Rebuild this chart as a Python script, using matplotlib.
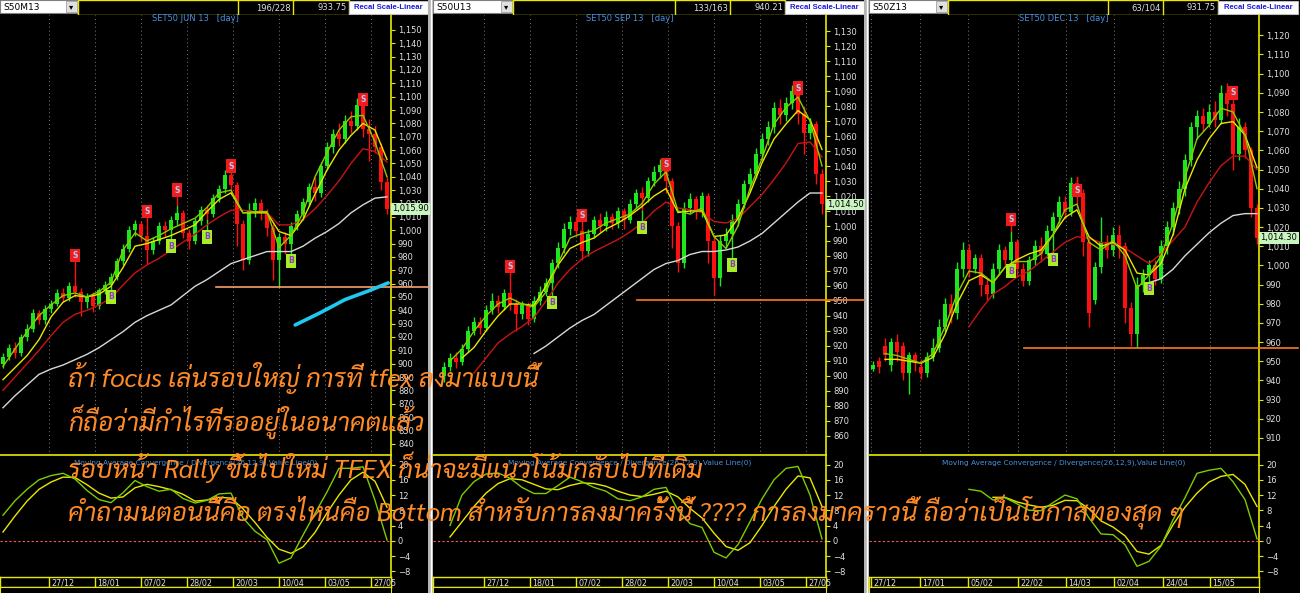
import numpy as np
import matplotlib
matplotlib.use('Agg')
import matplotlib.pyplot as plt
from matplotlib.patches import Rectangle
from matplotlib.ticker import FixedLocator, FuncFormatter

W, H = 1300, 593
STEP = 6.0  # pixels per candle slot (one candle = 2 trading days)

# ---------------- SET50 JUN 13 (S50M13) ----------------
p1_open = [900, 905, 912, 908, 920, 926, 938, 933, 941, 945,
           953, 949, 958, 954, 946, 951, 943, 955, 959, 965,
           977, 986, 1000, 1005, 996, 985, 992, 1003, 1000, 1008,
           1013, 998, 992, 1007, 1015, 1012, 1024, 1031, 1041, 1034,
           1005, 978, 1015, 1020, 1013, 1002, 978, 995, 990, 1003,
           1012, 1021, 1032, 1028, 1048, 1062, 1072, 1068, 1082, 1078,
           1094, 1076, 1072, 1062, 1036]
p1_close = [905, 912, 908, 920, 926, 938, 933, 941, 945, 953,
            949, 958, 954, 946, 951, 943, 955, 959, 965, 977,
            986, 1000, 1005, 996, 985, 992, 1003, 1000, 1008, 1013,
            998, 992, 1007, 1015, 1012, 1024, 1031, 1041, 1034, 1005,
            978, 1015, 1020, 1013, 1002, 978, 995, 990, 1003, 1012,
            1021, 1032, 1028, 1048, 1062, 1072, 1068, 1082, 1078, 1094,
            1076, 1072, 1062, 1036, 1015.9]
p1_high = [908, 915, 916, 922, 930, 941, 940, 944, 948, 956,
           957, 961, 965, 957, 953, 954, 957, 962, 968, 979,
           990, 1003, 1008, 1007, 998, 995, 1006, 1007, 1011, 1019,
           1015, 1001, 1009, 1018, 1019, 1027, 1034, 1045, 1043, 1036,
           1008, 1020, 1024, 1023, 1016, 1005, 998, 999, 1006, 1015,
           1024, 1035, 1040, 1051, 1066, 1076, 1080, 1086, 1089, 1099,
           1096, 1083, 1078, 1065, 1040]
p1_low = [897, 903, 904, 906, 917, 924, 930, 930, 938, 943,
          946, 947, 950, 936, 942, 939, 941, 952, 956, 963,
          974, 984, 996, 992, 975, 982, 990, 996, 998, 1004,
          994, 986, 990, 1004, 1008, 1010, 1021, 1028, 1026, 988,
          970, 975, 1010, 1008, 996, 963, 957, 982, 987, 1000,
          1008, 1018, 1022, 1025, 1045, 1058, 1063, 1065, 1073, 1075,
          1070, 1052, 1058, 1030, 1012]
# moving averages, read every second candle slot
p1_ma_fast = [898, 911, 924, 936, 944, 951, 953, 950, 954, 961, 985, 998, 992, 996, 1001, 1005, 1009,
              1017, 1028, 1030, 1013, 1014, 1014, 987, 996, 1013, 1040, 1058, 1075, 1085, 1086, 1066, 1040]
p1_ma_mid = [888, 897, 906, 918, 935, 946, 951, 950, 952, 958, 972, 988, 990, 993, 996, 1000, 1004,
             1014, 1023, 1028, 1013, 1013, 1013, 999, 996, 1008, 1027, 1045, 1060, 1071, 1080, 1075, 1053]
p1_ma_slow = [880, 890, 900, 910, 921, 931, 937, 940, 944, 949, 959, 968, 974, 979, 985, 991, 997,
              1004, 1010, 1015, 1015, 1014, 1013, 1004, 1004, 1008, 1016, 1026, 1037, 1050, 1061, 1059, 1051]
p1_ma_long = [867, 876, 884, 892, 896, 899, 903, 907, 912, 918, 924, 931, 936, 940, 944, 951, 958,
              963, 969, 975, 978, 981, 984, 984, 984, 988, 994, 999, 1005, 1013, 1019, 1024, 1025]
p1_macd = [6.7, 10.5, 13.5, 16, 17.1, 17.7, 16.2, 13.2, 10.8, 10, 12.6, 15.8, 14.2, 13, 13.5, 11.1, 9.9,
           10.6, 12.3, 12.5, 6, 2.5, 0.3, -5.9, -4.5, 1.5, 7.2, 12.8, 19, 19, 19.4, 10.6, 0.2]
p1_signal = [2.3, 6.5, 10.4, 13.5, 15.4, 16.7, 16.6, 14.7, 12.5, 11.2, 11.5, 13.9, 14.8, 14.2, 13.4, 12.2, 10.4,
             10.7, 11.4, 11.2, 8.4, 4.8, 0.9, -2.2, -3.3, -1.6, 2.2, 7.3, 12, 16, 18, 15.6, 8.8]
p1_sig_idx = [12, 18, 24, 28, 29, 34, 38, 48, 60]
p1_sig_val = [981, 950, 1014, 988, 1030, 995, 1048, 977, 1098]
p1_sig_kind = ['S', 'B', 'S', 'B', 'S', 'B', 'S', 'B', 'S']
p1_level = 957.5
p1_level_from = 35.5
p1_cyan_idx = [48.7, 52.8, 57.0, 61.2, 64.2]
p1_cyan_val = [929, 938, 948, 955, 960.5]
p1_date_pos = [7.67, 15.33, 23.0, 30.67, 38.33, 46.0, 53.67, 61.33]
p1_date_lbl = ['27/12', '18/01', '07/02', '28/02', '20/03', '10/04', '03/05', '27/05']

# ---------------- SET50 SEP 13 (S50U13), candles start at slot 1 ----------------
p2_open = [900, 906, 912, 909, 918, 930, 936, 932, 944, 950,
           946, 955, 948, 941, 947, 938, 950, 956, 962, 975,
           985, 998, 1003, 997, 983, 995, 1004, 1000, 1006, 1002,
           1010, 1004, 1015, 1022, 1019, 1030, 1036, 1041, 1030, 1000,
           975, 1012, 1018, 1010, 1020, 990, 965, 990, 995, 1004,
           1015, 1028, 1035, 1048, 1058, 1066, 1079, 1074, 1082, 1090,
           1075, 1062, 1068, 1035]
p2_close = [906, 912, 909, 918, 930, 936, 932, 944, 950, 946,
            955, 948, 941, 947, 938, 950, 956, 962, 975, 985,
            998, 1003, 997, 983, 995, 1004, 1000, 1006, 1002, 1010,
            1004, 1015, 1022, 1019, 1030, 1036, 1041, 1030, 1000, 975,
            1012, 1018, 1010, 1020, 990, 965, 990, 995, 1004, 1015,
            1028, 1035, 1048, 1058, 1066, 1079, 1074, 1082, 1090, 1075,
            1062, 1068, 1035, 1014.5]
p2_high = [909, 915, 916, 921, 933, 939, 939, 947, 955, 954,
           958, 962, 951, 950, 949, 953, 960, 965, 978, 989,
           1002, 1007, 1006, 999, 998, 1007, 1009, 1010, 1009, 1013,
           1012, 1018, 1025, 1026, 1033, 1040, 1045, 1043, 1032, 1003,
           1016, 1022, 1020, 1023, 1022, 993, 994, 999, 1008, 1018,
           1031, 1039, 1052, 1062, 1070, 1083, 1085, 1086, 1094, 1093,
           1080, 1072, 1070, 1038]
p2_low = [896, 903, 905, 907, 916, 927, 928, 930, 941, 942,
          944, 944, 930, 938, 934, 936, 947, 953, 960, 972,
          982, 994, 993, 977, 980, 992, 996, 997, 998, 999,
          998, 1002, 1012, 1010, 1016, 1027, 1032, 1022, 985, 969,
          972, 1008, 1005, 1006, 975, 954, 960, 985, 990, 1000,
          1012, 1024, 1032, 1044, 1054, 1062, 1068, 1070, 1078, 1068,
          1048, 1058, 1028, 1008]
p2_ma_fast = [None, 910, 918, 930, 940, 948, 952, 948, 946, 956, 975, 992, 995, 997, 1002, 1005, 1008,
              1015, 1028, 1036, 1010, 1008, 1012, 993, 985, 1000, 1025, 1045, 1068, 1079, 1086, 1070, 1040]
p2_ma_mid = [None, None, 912, 919, 930, 940, 948, 948, 947, 960, 974, 985, 989, 992, 998, 1002, 1007,
             1013, 1020, 1025, 1009, 1010, 1010, 993, 994, 1005, 1022, 1042, 1058, 1068, 1077, 1071, 1051]
p2_ma_slow = [None, None, None, 902, 912, 922, 928, 933, 939, 950, 962, 971, 978, 983, 987, 991, 996,
              1002, 1010, 1016, 1012, 1011, 1009, 1003, 1002, 1005, 1013, 1021, 1031, 1042, 1055, 1056, 1046]
p2_ma_long = [None, None, None, None, None, None, None, None, 915, 920, 926, 932, 937, 941, 947, 953, 959,
              965, 971, 975, 977, 981, 983, 983, 984, 986, 990, 995, 1002, 1009, 1016, 1022, 1022]
p2_macd = [None, 4, 12, 15.5, 17.5, 17.8, 16.4, 14, 12.4, 12.4, 14.5, 16.7, 15.5, 14, 13, 11, 10.5,
           11.5, 13.5, 14, 8, 4.5, 3.5, -3, -4.5, -1, 5, 11, 16, 19, 19.5, 12, 0.5]
p2_signal = [None, 1, 5, 9, 12.5, 15, 16.3, 16, 14.8, 13.6, 13.4, 14.5, 15.2, 15, 14.3, 13, 12,
             11.6, 12.2, 13, 11.5, 8.5, 6, 2, -1.5, -2.5, -0.5, 4, 9, 13.5, 17, 16.5, 9]
p2_sig_idx = [12, 19, 24, 34, 38, 49, 60]
p2_sig_val = [973, 949, 1007, 999, 1041, 974, 1092]
p2_sig_kind = ['S', 'B', 'S', 'B', 'S', 'B', 'S']
p2_level = 950.7
p2_level_from = 33.2
p2_date_pos = [7.67, 15.33, 23.0, 30.67, 38.33, 46.0, 53.67, 61.33]
p2_date_lbl = ['27/12', '18/01', '07/02', '28/02', '20/03', '10/04', '03/05', '27/05']

# ---------------- SET50 DEC 13 (S50Z13) ----------------
p3_open = [946, 950, 958, 948, 960, 958, 944, 953, 947, 944,
           952, 957, 968, 980, 975, 998, 1008, 998, 1004, 990,
           985, 998, 1008, 1003, 1012, 998, 992, 1003, 1010, 1006,
           1018, 1025, 1033, 1028, 1043, 1038, 1012, 982, 999, 1012,
           1008, 1016, 1010, 978, 964, 990, 995, 1000, 993, 1010,
           1020, 1030, 1040, 1055, 1072, 1078, 1074, 1080, 1076, 1090,
           1084, 1058, 1072, 1060, 1030]
p3_close = [948, 947, 953, 960, 955, 944, 953, 949, 944, 952,
            957, 968, 980, 975, 998, 1008, 998, 1004, 990, 985,
            998, 1008, 1003, 1012, 998, 992, 1003, 1010, 1006, 1018,
            1025, 1033, 1028, 1043, 1038, 1012, 975, 999, 1012, 1008,
            1016, 1010, 978, 964, 990, 995, 1000, 993, 1010, 1020,
            1030, 1040, 1055, 1072, 1078, 1074, 1080, 1076, 1090, 1084,
            1058, 1072, 1060, 1030, 1014.3]
p3_high = [950, 952, 962, 962, 964, 960, 955, 955, 951, 955,
           962, 972, 983, 985, 1002, 1012, 1011, 1006, 1006, 993,
           1001, 1011, 1010, 1018, 1014, 1001, 1005, 1013, 1015, 1021,
           1028, 1036, 1036, 1046, 1046, 1040, 1015, 1002, 1025, 1016,
           1020, 1021, 1012, 981, 994, 998, 1003, 1003, 1013, 1023,
           1033, 1044, 1058, 1075, 1081, 1082, 1084, 1086, 1094, 1095,
           1088, 1077, 1075, 1062, 1032]
p3_low = [945, 944, 950, 945, 950, 940, 933, 945, 941, 942,
          950, 955, 965, 970, 972, 994, 994, 996, 984, 982,
          983, 995, 999, 1000, 994, 989, 990, 1000, 1002, 1004,
          1015, 1022, 1024, 1026, 1030, 1005, 968, 980, 996, 1004,
          1005, 1004, 970, 958, 957, 986, 990, 990, 991, 1006,
          1016, 1027, 1036, 1052, 1066, 1070, 1072, 1072, 1074, 1078,
          1050, 1055, 1056, 1025, 1011]
p3_ma_fast = [None, 954, 953, 951, 949, 954, 968, 985, 997, 996, 991, 999, 1002, 1002, 1006, 1016, 1029,
              1032, 1012, 1008, 1013, 1005, 988, 995, 1005, 1022, 1046, 1066, 1073, 1082, 1080, 1068, 1040]
p3_ma_mid = [None, 951, 951, 950, 949, 952, 964, 980, 992, 995, 991, 999, 1003, 1006, 1008, 1016, 1025,
             1029, 1015, 1010, 1012, 1008, 996, 995, 1001, 1016, 1040, 1055, 1066, 1074, 1075, 1068, 1051]
p3_ma_slow = [None, None, None, None, None, None, None, None, 968, 977, 985, 989, 994, 997, 1002, 1007, 1012,
              1015, 1014, 1012, 1011, 1009, 1005, 1001, 1006, 1013, 1020, 1033, 1043, 1052, 1057, 1057, 1050]
p3_ma_long = [None] * 23 + [991, 993, 998, 1005, 1011, 1017, 1022, 1026, 1027, 1027]
p3_macd = [None] * 8 + [13.5, 13, 10.7, 11.3, 9.7, 8, 7.9, 10, 12, 11, 6, 1.8, 1.6, -1, -6.7, -5.4, -1.4,
                        5.5, 11.3, 17.7, 18.5, 19, 15.5, 10.8, 0.5]
p3_signal = [None] * 10 + [11.4, 11.4, 10.2, 9.4, 8.8, 9.3, 10.6, 10.5, 8.4, 5.2, 3.6, 1.3, -2.8, -3.5,
                           -1.2, 4.2, 8.8, 12.5, 15.4, 16.9, 17.4, 14.8, 9]
p3_sig_idx = [23, 23, 30, 34, 46, 60]
p3_sig_val = [1024, 997, 1003, 1039, 988, 1090]
p3_sig_kind = ['S', 'B', 'B', 'S', 'B', 'S']
p3_level = 956.8
p3_level_from = 25.2
p3_date_pos = [-0.33, 7.83, 15.83, 24.17, 32.17, 40.17, 48.33, 56.17]
p3_date_lbl = ['27/12', '17/01', '05/02', '22/02', '14/03', '02/04', '24/04', '15/05']

note_lines = [
    'ถ้า focus เล่นรอบใหญ่ การที่ tfex ลงมาแบบนี้',
    'ก็ถือว่ามีกำไรที่รออยู่ในอนาคตแล้ว',
    'รอบหน้า Rally ขึ้นไปใหม่ TFEX ก็น่าจะมีแนวโน้มกลับไปที่เดิม',
    'คำถามนตอนนี้คือ ตรงไหนคือ Bottom สำหรับการลงมาครั้งนี้ ???? การลงมาคราวนี้ ถือว่าเป็นโอกาสทองสุด ๆ',
]

YEL = '#e8e800'
LBL = '#e0e0e0'
BLUE = '#4a90e0'

fig = plt.figure(figsize=(W / 100, H / 100), dpi=100, facecolor='black')
chrome = fig.add_axes([0, 0, 1, 1])
chrome.set_xlim(0, W)
chrome.set_ylim(H, 0)
chrome.axis('off')


def rect(x0, y0, x1, y1, fc, ec='none', lw=1.0):
    chrome.add_patch(Rectangle((x0, y0), x1 - x0, y1 - y0, fc=fc, ec=ec, lw=lw))


def px_axes(x0, y0, x1, y1):
    ax = fig.add_axes([x0 / W, 1 - y1 / H, (x1 - x0) / W, (y1 - y0) / H])
    ax.set_facecolor('black')
    for s in ax.spines.values():
        s.set_visible(False)
    return ax


def draw_panel(left, axis, right, ox, first, title, code, count, last, vlim, ticks,
               o, c, hi, lo, mas, macd, sig, sigs, level, level_from, dpos, dlbl,
               combo_r, div1, div2, recal_l):
    # top bar
    rect(left, 0, combo_r, 13, 'white', '#808080', 0.8)
    chrome.text(left + 3, 7, code, fontsize=6.5, color='black', va='center')
    rect(combo_r - 12, 1, combo_r - 1, 12, '#e0e0e0', '#a0a0a0', 0.6)
    chrome.text(combo_r - 6.5, 7, '▾', fontsize=6, color='black', ha='center', va='center')
    rect(combo_r, 0, recal_l, 14.5, 'black', YEL, 1.0)
    chrome.plot([div1, div1], [0, 14.5], color=YEL, lw=1.0)
    chrome.plot([div2, div2], [0, 14.5], color=YEL, lw=1.0)
    chrome.text(div2 - 2, 8, count, fontsize=6, color=LBL, ha='right', va='center')
    chrome.text(recal_l - 2, 8, last, fontsize=6, color=LBL, ha='right', va='center')
    rect(recal_l, 0.5, right, 14, 'white', '#c0c0c0', 0.8)
    chrome.text((recal_l + right) / 2, 7.5, 'Recal Scale-Linear', fontsize=5.6, color='#1a1ad8',
                ha='center', va='center', fontweight='bold', family='Liberation Sans')

    xlo, xhi = (left - ox) / STEP, (axis - ox) / STEP
    xend = (right - ox) / STEP
    idx = np.arange(first, first + len(c))
    grid = np.arange(0, 65, 2)
    o, c, hi, lo = map(np.asarray, (o, c, hi, lo))

    # price chart
    ax = px_axes(left, 15, axis, 455)
    ax.set_xlim(xlo, xhi)
    ax.set_ylim(*vlim)
    for d in dpos:
        ax.axvline(d, color='#7a7a7a', ls=(0, (1, 3)), lw=0.7, zorder=0)
    up = c >= o
    cols = np.where(up, '#1ee61e', '#ff1010')
    ax.vlines(idx, lo, hi, colors=cols, lw=1.0, zorder=2)
    ax.bar(idx, np.maximum(np.abs(c - o), 0.8), bottom=np.minimum(o, c), width=0.55,
           color=cols, lw=0, zorder=2)
    for vals, col in zip(mas, ['#d8d8d8', '#c81414', '#e8e800', '#8ccc00']):
        ax.plot(grid, np.array(vals, dtype=float), color=col, lw=1.0, zorder=3)
    for k, v, kind in zip(*sigs):
        j = k - first
        if kind == 'S':
            ax.plot([k, k], [hi[j], v], color='#ff1010', lw=1.0, zorder=2)
            ax.text(k, v, 'S', fontsize=5.5, color='#b8c8f0', ha='center', va='center', zorder=5,
                    fontweight='bold', bbox=dict(boxstyle='square,pad=0.3', fc='#ee1c1c', ec='none'))
        else:
            ax.plot([k, k], [lo[j], v], color='#1ee61e', lw=1.0, zorder=2)
            ax.text(k, v, 'B', fontsize=5.5, color='#8a3ad0', ha='center', va='center', zorder=5,
                    fontweight='bold', bbox=dict(boxstyle='square,pad=0.3', fc='#a8ee22', ec='none'))
    ax.plot([level_from, xend], [level, level], color='#ff7a1a', lw=1.2, clip_on=False, zorder=4)
    ax.spines['right'].set_visible(True)
    ax.spines['right'].set_color(YEL)
    ax.spines['right'].set_linewidth(1.2)
    ax.yaxis.tick_right()
    ax.yaxis.set_major_locator(FixedLocator(ticks))
    ax.yaxis.set_major_formatter(FuncFormatter(lambda v, p: f'{v:,.0f}'))
    ax.tick_params(axis='y', colors=YEL, labelcolor=LBL, labelsize=6, length=3, pad=2)
    ax.set_xticks([])
    ax.text(0.5, 0.991, title, transform=ax.transAxes, fontsize=6, color=BLUE,
            ha='center', va='center')
    ax.annotate(f'{c[-1]:,.2f}', xy=(1.0, c[-1]), xycoords=('axes fraction', 'data'),
                xytext=(1, 0), textcoords='offset points', fontsize=6, color='black',
                ha='left', va='center', annotation_clip=False,
                bbox=dict(boxstyle='square,pad=0.15', fc='#c8f5bf', ec='none'))

    # MACD
    mx = px_axes(left, 455, axis, 577)
    mx.set_xlim(xlo, xhi)
    mx.set_ylim(-9.5, 22.5)
    mx.axhline(0, color='#ff5a5a', ls=(0, (2, 2)), lw=0.8)
    mx.plot(grid, np.array(sig, dtype=float), color='#e8e800', lw=1.0)
    mx.plot(grid, np.array(macd, dtype=float), color='#7ccc00', lw=1.0)
    for s in ('right', 'top'):
        mx.spines[s].set_visible(True)
        mx.spines[s].set_color(YEL)
        mx.spines[s].set_linewidth(1.2)
    mx.yaxis.tick_right()
    mx.yaxis.set_major_locator(FixedLocator([20, 16, 12, 8, 4, 0, -4, -8]))
    mx.tick_params(axis='y', colors=YEL, labelcolor=LBL, labelsize=6, length=3, pad=2)
    mx.set_xticks([])
    mx.text(0.5, 0.935, 'Moving Average Convergence / Divergence(26,12,9),Value Line(0)',
            transform=mx.transAxes, fontsize=5.3, color=BLUE, ha='center', va='center')

    # date bar
    dx = px_axes(left, 577, axis, 587)
    dx.set_xlim(xlo, xhi)
    dx.set_ylim(0, 1)
    for s in dx.spines.values():
        s.set_visible(True)
        s.set_color(YEL)
        s.set_linewidth(1.0)
    dx.set_xticks([])
    dx.set_yticks([])
    for d, t in zip(dpos, dlbl):
        dx.axvline(d, color=YEL, lw=1.0)
        dx.text(d + 0.4, 0.45, t, fontsize=5.8, color=LBL, va='center', ha='left')
    bx = px_axes(left, 587, axis, 593)
    bx.set_xlim(xlo, xhi)
    bx.set_ylim(0, 1)
    for s in ('left', 'right', 'top'):
        bx.spines[s].set_visible(True)
        bx.spines[s].set_color(YEL)
    bx.set_xticks([])
    bx.set_yticks([])
    return ax


p1_ax = draw_panel(0, 391, 428, 3, 0, 'SET50 JUN 13   [day]', 'S50M13', '196/228', '933.75',
                   (831.6, 1161.2), list(range(840, 1151, 10)),
                   p1_open, p1_close, p1_high, p1_low,
                   [p1_ma_long, p1_ma_slow, p1_ma_mid, p1_ma_fast], p1_macd, p1_signal,
                   (p1_sig_idx, p1_sig_val, p1_sig_kind), p1_level, p1_level_from,
                   p1_date_pos, p1_date_lbl, 78, 238, 293, 349)
p1_ax.lines[-1].set_color('#f4a06a')
p1_ax.plot(p1_cyan_idx, p1_cyan_val, color='#1ec8f0', lw=2.6, solid_capstyle='round', zorder=4)

draw_panel(433, 826, 864, 438, 1, 'SET50 SEP 13   [day]', 'S50U13', '133/163', '940.21',
           (847.3, 1140.7), list(range(860, 1131, 10)),
           p2_open, p2_close, p2_high, p2_low,
           [p2_ma_long, p2_ma_slow, p2_ma_mid, p2_ma_fast], p2_macd, p2_signal,
           (p2_sig_idx, p2_sig_val, p2_sig_kind), p2_level, p2_level_from,
           p2_date_pos, p2_date_lbl, 513, 675, 730, 785)

draw_panel(869, 1259, 1298, 873, 0, 'SET50 DEC 13   [day]', 'S50Z13', '63/104', '931.75',
           (901.1, 1130.6), list(range(910, 1121, 10)),
           p3_open, p3_close, p3_high, p3_low,
           [p3_ma_long, p3_ma_slow, p3_ma_mid, p3_ma_fast], p3_macd, p3_signal,
           (p3_sig_idx, p3_sig_val, p3_sig_kind), p3_level, p3_level_from,
           p3_date_pos, p3_date_lbl, 948, 1108, 1163, 1218)

# panel separators
for x0 in (428, 864):
    rect(x0, 0, x0 + 5, H, '#b4b4b4')
    chrome.plot([x0 + 2.5, x0 + 2.5], [0, H], color='white', lw=1.0)

# overlaid Thai note
thai = ['Sarabun', 'Noto Sans Thai', 'Bai Jamjuree', 'DejaVu Sans']
for k, (line, yc) in enumerate(zip(note_lines, [378, 422, 468, 513])):
    fig.text(68 / W, 1 - yc / H, line, fontsize=18.6, style='italic', color='#ff8a26',
             family=thai, va='center', ha='left', zorder=10)

fig.savefig('out.png', dpi=100, facecolor='black')
